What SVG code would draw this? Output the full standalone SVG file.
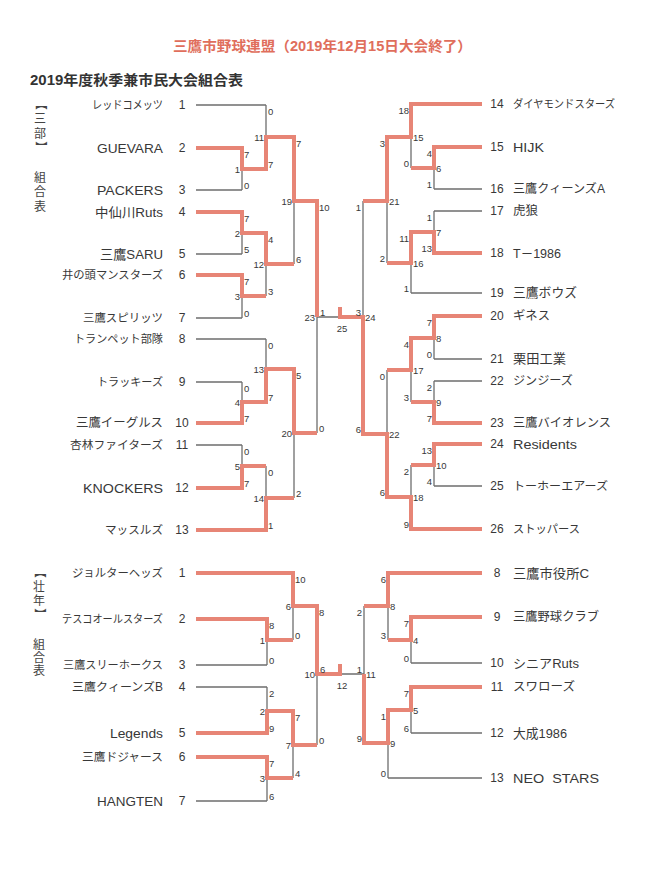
<svg xmlns="http://www.w3.org/2000/svg" width="663" height="880" viewBox="0 0 663 880">
<style>
.bg{fill:#ffffff}
.g{fill:none;stroke:#6e6e6e;stroke-width:1.3}
.r{fill:none;stroke:#e78576;stroke-width:4;stroke-linejoin:miter;stroke-linecap:butt}
text{font-family:"Liberation Sans","Noto Sans CJK JP",sans-serif;fill:#383838}
.nm{font-size:13px}
.nl{text-anchor:end}
.no{font-size:12px;text-anchor:middle}
.s{font-size:9.5px;dominant-baseline:central}
.sl{text-anchor:end}
.sm{text-anchor:middle}
.ttl{font-size:14px;font-weight:bold;fill:#e06e5c}
.sub{font-size:14px;font-weight:bold;fill:#333333}
.side{font-size:12px;text-anchor:middle;dominant-baseline:central;fill:#444444}
</style>
<rect class="bg" x="0" y="0" width="663" height="880"/>
<g id="title">
<text class="ttl" x="173" y="51" textLength="299" lengthAdjust="spacingAndGlyphs">三鷹市野球連盟（2019年12月15日大会終了）</text>
<text class="sub" x="30" y="85" textLength="213" lengthAdjust="spacingAndGlyphs">2019年度秋季兼市民大会組合表</text>
</g>
<g id="side-label-sanbu">
<text class="side" x="40" y="104" transform="rotate(90 40 104)">【</text>
<text class="side" x="40" y="119">三</text>
<text class="side" x="40" y="134">部</text>
<text class="side" x="40" y="147" transform="rotate(90 40 147)">】</text>
<text class="side" x="40" y="178">組</text>
<text class="side" x="40" y="192">合</text>
<text class="side" x="40" y="207">表</text>
</g>
<g id="side-label-sonen">
<text class="side" x="39" y="572" transform="rotate(90 39 572)">【</text>
<text class="side" x="39" y="587">壮</text>
<text class="side" x="39" y="601">年</text>
<text class="side" x="39" y="614" transform="rotate(90 39 614)">】</text>
<text class="side" x="39" y="645">組</text>
<text class="side" x="39" y="658">合</text>
<text class="side" x="39" y="671">表</text>
</g>
<g id="connectors">
<path class="g" d="M196,148H242M196,190H242M242,148V190M242,169H266
M196,212H242M196,254H242M242,212V254M242,233H266
M196,275H242M196,318H242M242,275V318M242,296H266
M196,382H242M196,423H242M242,382V423M242,402H266
M196,445H242M196,488H242M242,445V488M242,466H266
M196,105H266M266,105V169M266,137H294
M266,233V296M266,264H294
M196,339H266M266,339V402M266,369H294
M196,530H266M266,466V530M266,498H294
M294,137V264M294,201H317
M294,369V498M294,433H317
M317,201V433M317,317H363
M363,201V434
M387,137V263M387,201H363
M482,104H411M411,104V168M411,137H387
M482,147H434M482,189H434M434,147V189M434,168H411
M482,211H434M482,253H434M434,211V253M434,232H411
M482,293H411M411,232V293M411,263H387
M387,370V497M387,434H363
M411,338V402M411,370H387
M482,316H434M482,359H434M434,316V359M434,338H411
M482,381H434M482,423H434M434,381V423M434,402H411
M482,529H411M411,465V529M411,497H387
M482,444H434M482,486H434M434,444V486M434,465H411"/>
<path class="g" d="M196,619H267M196,665H267M267,619V665M267,640H293
M196,573H293M293,573V640M293,606H317
M196,687H267M196,733H267M267,687V733M267,711H293
M196,757H267M196,801H267M267,757V801M267,778H293
M293,711V778M293,745H317
M317,606V745M317,674H364
M364,606V743
M482,573H388M388,573V640M388,606H364
M482,617H411M482,663H411M411,617V663M411,640H388
M482,778H388M388,710V778M388,743H364
M482,687H411M482,733H411M411,687V733M411,710H388"/>
<path class="r" d="M196,148H242V169H266V137H294V201H317V317"/>
<path class="r" d="M196,212H242V233H266V264H294"/>
<path class="r" d="M196,275H242V296H266"/>
<path class="r" d="M196,423H242V402H266V369H294V433H317"/>
<path class="r" d="M196,488H242V466H266"/>
<path class="r" d="M196,530H266V498H294"/>
<path class="r" d="M482,104H411V137H387V201H363"/>
<path class="r" d="M482,147H434V168H411"/>
<path class="r" d="M482,253H434V232H411V263H387"/>
<path class="r" d="M482,316H434V338H411V370H387"/>
<path class="r" d="M482,423H434V402H411"/>
<path class="r" d="M482,444H434V465H411"/>
<path class="r" d="M482,529H411V497H387V434H363V317H340V307"/>
<path class="r" d="M196,573H293V606H317V674H340V664"/>
<path class="r" d="M196,619H267V640H293"/>
<path class="r" d="M196,733H267V711H293V745H317"/>
<path class="r" d="M196,757H267V778H293"/>
<path class="r" d="M482,573H388V606H364"/>
<path class="r" d="M482,617H411V640H388"/>
<path class="r" d="M482,687H411V710H388V743H364V674"/>
</g>
<g id="teams-sanbu-left">
<g id="t1"><text class="nm nl" x="163" y="109" style="font-size:11.5px" textLength="71" lengthAdjust="spacingAndGlyphs">レッドコメッツ</text><text class="no" x="182" y="109">1</text></g>
<g id="t2"><text class="nm nl" x="163" y="153" textLength="66" lengthAdjust="spacingAndGlyphs">GUEVARA</text><text class="no" x="182" y="152">2</text></g>
<g id="t3"><text class="nm nl" x="163" y="195" textLength="66" lengthAdjust="spacingAndGlyphs">PACKERS</text><text class="no" x="182" y="194">3</text></g>
<g id="t4"><text class="nm nl" x="163" y="217" textLength="68" lengthAdjust="spacingAndGlyphs">中仙川Ruts</text><text class="no" x="182" y="216">4</text></g>
<g id="t5"><text class="nm nl" x="163" y="259" textLength="63" lengthAdjust="spacingAndGlyphs">三鷹SARU</text><text class="no" x="182" y="258">5</text></g>
<g id="t6"><text class="nm nl" x="163" y="279" style="font-size:11.4px" textLength="101" lengthAdjust="spacingAndGlyphs">井の頭マンスターズ</text><text class="no" x="182" y="279">6</text></g>
<g id="t7"><text class="nm nl" x="163" y="322" style="font-size:11.6px" textLength="80" lengthAdjust="spacingAndGlyphs">三鷹スピリッツ</text><text class="no" x="182" y="322">7</text></g>
<g id="t8"><text class="nm nl" x="163" y="343" style="font-size:11.4px" textLength="89" lengthAdjust="spacingAndGlyphs">トランペット部隊</text><text class="no" x="182" y="343">8</text></g>
<g id="t9"><text class="nm nl" x="163" y="386" style="font-size:11.4px" textLength="66" lengthAdjust="spacingAndGlyphs">トラッキーズ</text><text class="no" x="182" y="386">9</text></g>
<g id="t10"><text class="nm nl" x="163" y="427" style="font-size:12.2px" textLength="87" lengthAdjust="spacingAndGlyphs">三鷹イーグルス</text><text class="no" x="182" y="427">10</text></g>
<g id="t11"><text class="nm nl" x="163" y="449" style="font-size:11.6px" textLength="93" lengthAdjust="spacingAndGlyphs">杏林ファイターズ</text><text class="no" x="182" y="449">11</text></g>
<g id="t12"><text class="nm nl" x="163" y="493" textLength="80" lengthAdjust="spacingAndGlyphs">KNOCKERS</text><text class="no" x="182" y="492">12</text></g>
<g id="t13"><text class="nm nl" x="163" y="534" style="font-size:11.8px" textLength="58" lengthAdjust="spacingAndGlyphs">マッスルズ</text><text class="no" x="182" y="534">13</text></g>
</g>
<g id="teams-sanbu-right">
<g id="t14"><text class="no" x="497" y="108">14</text><text class="nm" x="513" y="108" style="font-size:11.4px" textLength="102" lengthAdjust="spacingAndGlyphs">ダイヤモンドスターズ</text></g>
<g id="t15"><text class="no" x="497" y="151">15</text><text class="nm" x="513" y="152" textLength="31" lengthAdjust="spacingAndGlyphs">HIJK</text></g>
<g id="t16"><text class="no" x="497" y="193">16</text><text class="nm" x="513" y="193" style="font-size:12px" textLength="92" lengthAdjust="spacingAndGlyphs">三鷹クィーンズA</text></g>
<g id="t17"><text class="no" x="497" y="215">17</text><text class="nm" x="513" y="215" style="font-size:12.5px" textLength="25" lengthAdjust="spacingAndGlyphs">虎狼</text></g>
<g id="t18"><text class="no" x="497" y="257">18</text><text class="nm" x="513" y="258" style="font-size:12.5px" textLength="48" lengthAdjust="spacingAndGlyphs">T－1986</text></g>
<g id="t19"><text class="no" x="497" y="297">19</text><text class="nm" x="513" y="297" style="font-size:12.8px" textLength="64" lengthAdjust="spacingAndGlyphs">三鷹ボウズ</text></g>
<g id="t20"><text class="no" x="497" y="320">20</text><text class="nm" x="513" y="320" style="font-size:12.3px" textLength="37" lengthAdjust="spacingAndGlyphs">ギネス</text></g>
<g id="t21"><text class="no" x="497" y="363">21</text><text class="nm" x="513" y="363" style="font-size:13px" textLength="53" lengthAdjust="spacingAndGlyphs">栗田工業</text></g>
<g id="t22"><text class="no" x="497" y="385">22</text><text class="nm" x="513" y="385" style="font-size:12px" textLength="60" lengthAdjust="spacingAndGlyphs">ジンジーズ</text></g>
<g id="t23"><text class="no" x="497" y="427">23</text><text class="nm" x="513" y="427" style="font-size:12.2px" textLength="98" lengthAdjust="spacingAndGlyphs">三鷹バイオレンス</text></g>
<g id="t24"><text class="no" x="497" y="448">24</text><text class="nm" x="513" y="449" textLength="64" lengthAdjust="spacingAndGlyphs">Residents</text></g>
<g id="t25"><text class="no" x="497" y="490">25</text><text class="nm" x="513" y="490" style="font-size:11.9px" textLength="95" lengthAdjust="spacingAndGlyphs">トーホーエアーズ</text></g>
<g id="t26"><text class="no" x="497" y="533">26</text><text class="nm" x="513" y="533" style="font-size:11.6px" textLength="67" lengthAdjust="spacingAndGlyphs">ストッパース</text></g>
</g>
<g id="teams-sonen-left">
<g id="s1"><text class="nm nl" x="163" y="577" style="font-size:11.6px" textLength="91" lengthAdjust="spacingAndGlyphs">ジョルターヘッズ</text><text class="no" x="182" y="577">1</text></g>
<g id="s2"><text class="nm nl" x="163" y="623" style="font-size:11px" textLength="101" lengthAdjust="spacingAndGlyphs">テスコオールスターズ</text><text class="no" x="182" y="623">2</text></g>
<g id="s3"><text class="nm nl" x="163" y="669" style="font-size:11.4px" textLength="100" lengthAdjust="spacingAndGlyphs">三鷹スリーホークス</text><text class="no" x="182" y="669">3</text></g>
<g id="s4"><text class="nm nl" x="163" y="691" style="font-size:11.9px" textLength="91" lengthAdjust="spacingAndGlyphs">三鷹クィーンズB</text><text class="no" x="182" y="691">4</text></g>
<g id="s5"><text class="nm nl" x="163" y="738" textLength="53" lengthAdjust="spacingAndGlyphs">Legends</text><text class="no" x="182" y="737">5</text></g>
<g id="s6"><text class="nm nl" x="163" y="761" style="font-size:11.8px" textLength="81" lengthAdjust="spacingAndGlyphs">三鷹ドジャース</text><text class="no" x="182" y="761">6</text></g>
<g id="s7"><text class="nm nl" x="163" y="806" textLength="66" lengthAdjust="spacingAndGlyphs">HANGTEN</text><text class="no" x="182" y="805">7</text></g>
</g>
<g id="teams-sonen-right">
<g id="s8"><text class="no" x="497" y="577">8</text><text class="nm" x="513" y="578" textLength="76" lengthAdjust="spacingAndGlyphs">三鷹市役所C</text></g>
<g id="s9"><text class="no" x="497" y="621">9</text><text class="nm" x="513" y="621" style="font-size:12.3px" textLength="86" lengthAdjust="spacingAndGlyphs">三鷹野球クラブ</text></g>
<g id="s10"><text class="no" x="497" y="667">10</text><text class="nm" x="513" y="668" textLength="66" lengthAdjust="spacingAndGlyphs">シニアRuts</text></g>
<g id="s11"><text class="no" x="497" y="691">11</text><text class="nm" x="513" y="691" style="font-size:12.4px" textLength="62" lengthAdjust="spacingAndGlyphs">スワローズ</text></g>
<g id="s12"><text class="no" x="497" y="737">12</text><text class="nm" x="513" y="738" style="font-size:12.8px" textLength="54" lengthAdjust="spacingAndGlyphs">大成1986</text></g>
<g id="s13"><text class="no" x="497" y="782">13</text><text class="nm" x="513" y="783" xml:space="preserve" textLength="86" lengthAdjust="spacingAndGlyphs">NEO  STARS</text></g>
</g>
<g id="scores-sanbu">
<text class="s sl" x="240" y="169">1</text><text class="s" x="244" y="154">7</text><text class="s" x="244" y="185">0</text>
<text class="s sl" x="240" y="233">2</text><text class="s" x="244" y="218">7</text><text class="s" x="244" y="249">5</text>
<text class="s sl" x="240" y="296">3</text><text class="s" x="244" y="281">7</text><text class="s" x="244" y="313">0</text>
<text class="s sl" x="240" y="402">4</text><text class="s" x="244" y="388">0</text><text class="s" x="244" y="418">7</text>
<text class="s sl" x="240" y="466">5</text><text class="s" x="244" y="451">0</text><text class="s" x="244" y="483">7</text>
<text class="s sl" x="264" y="137">11</text><text class="s" x="268" y="111">0</text><text class="s" x="268" y="164">7</text>
<text class="s sl" x="264" y="264">12</text><text class="s" x="268" y="239">4</text><text class="s" x="268" y="291">3</text>
<text class="s sl" x="264" y="369">13</text><text class="s" x="268" y="345">0</text><text class="s" x="268" y="397">7</text>
<text class="s sl" x="264" y="498">14</text><text class="s" x="268" y="472">0</text><text class="s" x="268" y="525">1</text>
<text class="s sl" x="292" y="201">19</text><text class="s" x="296" y="143">7</text><text class="s" x="296" y="259">6</text>
<text class="s sl" x="292" y="433">20</text><text class="s" x="296" y="375">5</text><text class="s" x="296" y="493">2</text>
<text class="s sl" x="315" y="317">23</text><text class="s" x="319" y="207">10</text><text class="s" x="319" y="428">0</text>
<text class="s" x="320" y="312">1</text><text class="s sm" x="342" y="328">25</text><text class="s sl" x="361" y="312">3</text>
<text class="s" x="365" y="317">24</text><text class="s sl" x="361" y="207">1</text><text class="s sl" x="361" y="429">6</text>
<text class="s" x="389" y="201">21</text><text class="s sl" x="385" y="143">3</text><text class="s sl" x="385" y="258">2</text>
<text class="s" x="413" y="137">15</text><text class="s sl" x="409" y="110">18</text><text class="s sl" x="409" y="163">0</text>
<text class="s" x="436" y="168">6</text><text class="s sl" x="432" y="153">4</text><text class="s sl" x="432" y="184">1</text>
<text class="s" x="436" y="232">7</text><text class="s sl" x="432" y="217">1</text><text class="s sl" x="432" y="248">13</text>
<text class="s" x="413" y="263">16</text><text class="s sl" x="409" y="238">11</text><text class="s sl" x="409" y="288">1</text>
<text class="s" x="436" y="338">8</text><text class="s sl" x="432" y="322">7</text><text class="s sl" x="432" y="354">0</text>
<text class="s" x="436" y="402">9</text><text class="s sl" x="432" y="387">2</text><text class="s sl" x="432" y="418">7</text>
<text class="s" x="413" y="370">17</text><text class="s sl" x="409" y="344">4</text><text class="s sl" x="409" y="397">3</text>
<text class="s" x="436" y="465">10</text><text class="s sl" x="432" y="450">13</text><text class="s sl" x="432" y="481">4</text>
<text class="s" x="413" y="497">18</text><text class="s sl" x="409" y="471">2</text><text class="s sl" x="409" y="524">9</text>
<text class="s" x="389" y="434">22</text><text class="s sl" x="385" y="376">0</text><text class="s sl" x="385" y="492">6</text>
</g>
<g id="scores-sonen">
<text class="s sl" x="265" y="640">1</text><text class="s" x="269" y="625">8</text><text class="s" x="269" y="660">0</text>
<text class="s sl" x="291" y="606">6</text><text class="s" x="295" y="579">10</text><text class="s" x="295" y="635">0</text>
<text class="s sl" x="265" y="711">2</text><text class="s" x="269" y="693">2</text><text class="s" x="269" y="728">9</text>
<text class="s sl" x="265" y="778">3</text><text class="s" x="269" y="763">7</text><text class="s" x="269" y="796">6</text>
<text class="s sl" x="291" y="745">7</text><text class="s" x="295" y="717">7</text><text class="s" x="295" y="773">4</text>
<text class="s sl" x="315" y="674">10</text><text class="s" x="319" y="612">8</text><text class="s" x="319" y="740">0</text>
<text class="s" x="320" y="669">6</text><text class="s sm" x="342" y="685">12</text><text class="s sl" x="362" y="669">1</text>
<text class="s" x="366" y="674">11</text><text class="s sl" x="362" y="612">2</text><text class="s sl" x="362" y="738">9</text>
<text class="s" x="390" y="606">8</text><text class="s sl" x="386" y="579">6</text><text class="s sl" x="386" y="635">3</text>
<text class="s" x="413" y="640">4</text><text class="s sl" x="409" y="623">7</text><text class="s sl" x="409" y="658">0</text>
<text class="s" x="390" y="743">9</text><text class="s sl" x="386" y="716">1</text><text class="s sl" x="386" y="773">0</text>
<text class="s" x="413" y="710">5</text><text class="s sl" x="409" y="693">7</text><text class="s sl" x="409" y="728">6</text>
</g>
</svg>
